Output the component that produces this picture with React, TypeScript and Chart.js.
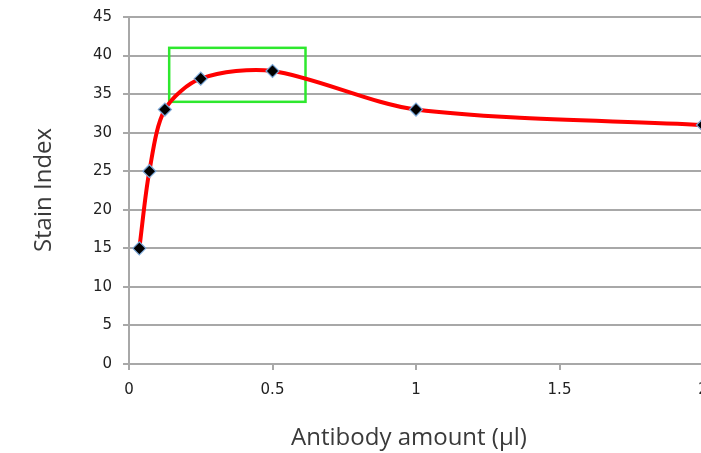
import React, { useEffect, useRef } from "react";
import { Chart, registerables } from "chart.js";

Chart.register(...registerables);

const antibodyAmount = [0.036, 0.071, 0.125, 0.25, 0.5, 1, 2];
const stainIndex = [15, 25, 33, 37, 38, 33, 31];
const yTickRange = [0, 45];
const yTickStep = 5;
const xTickRange = [0, 2];
const xTickStep = 0.5;
const highlightX = [0.14, 0.615];
const highlightY = [34, 41];
const yTitle = "Stain Index";
const xTitle = "Antibody amount (µl)";

const GRID = "#a8a8a8";
const TICK_FONT = "'DejaVu Sans', sans-serif";
const TITLE_FONT = "'Open Sans', sans-serif";

export default function App() {
  const ref = useRef<HTMLCanvasElement | null>(null);

  useEffect(() => {
    if (!ref.current) return;
    const boxPlugin = {
      id: "highlightBox",
      beforeDatasetsDraw(chart: any) {
        const { ctx, scales } = chart;
        const x0 = scales.x.getPixelForValue(highlightX[0]);
        const x1 = scales.x.getPixelForValue(highlightX[1]);
        const y0 = scales.y.getPixelForValue(highlightY[1]);
        const y1 = scales.y.getPixelForValue(highlightY[0]);
        ctx.save();
        ctx.strokeStyle = "#2ee82e";
        ctx.lineWidth = 2.5;
        ctx.strokeRect(x0, y0, x1 - x0, y1 - y0);
        ctx.restore();
      },
    };
    const titlePlugin = {
      id: "axisTitles",
      afterDraw(chart: any) {
        const { ctx } = chart;
        ctx.save();
        ctx.fillStyle = "#3a3a3a";
        ctx.font = `24px ${TITLE_FONT}`;
        ctx.textAlign = "center";
        ctx.textBaseline = "alphabetic";
        ctx.fillText(xTitle, 409, 445);
        ctx.translate(51, 190);
        ctx.rotate(-Math.PI / 2);
        ctx.fillText(yTitle, 0, 0);
        ctx.restore();
      },
    };
    const chart = new Chart(ref.current, {
      type: "line",
      data: {
        datasets: [
          {
            data: antibodyAmount.map((x, i) => ({ x, y: stainIndex[i] })),
            borderColor: "#ff0000",
            borderWidth: 4,
            tension: 0.3,
            pointStyle: "rectRot",
            pointRadius: 6.5,
            pointBackgroundColor: "#000000",
            pointBorderColor: "#7aa6d6",
            pointBorderWidth: 1.2,
            fill: false,
            clip: 10,
          },
        ],
      },
      options: {
        responsive: false,
        animation: false,
        layout: { padding: { top: 17, right: 17, bottom: 0, left: 0 } },
        plugins: { legend: { display: false }, tooltip: { enabled: false } },
        scales: {
          x: {
            type: "linear",
            min: xTickRange[0],
            max: xTickRange[1],
            ticks: {
              stepSize: xTickStep,
              color: "#222",
              padding: 11,
              font: { family: TICK_FONT, size: 15 },
              callback: (v: any) => String(v),
            },
            grid: {
              drawOnChartArea: false,
              drawTicks: true,
              tickLength: 6,
              color: GRID,
              lineWidth: 2,
            },
            border: { color: GRID, width: 2 },
            afterFit(scale: any) {
              scale.height = 89;
              scale.paddingLeft = 0;
              scale.paddingRight = 0;
            },
          },
          y: {
            type: "linear",
            min: yTickRange[0],
            max: yTickRange[1],
            ticks: {
              stepSize: yTickStep,
              color: "#222",
              padding: 11,
              font: { family: TICK_FONT, size: 15 },
            },
            grid: {
              drawTicks: true,
              tickLength: 6,
              color: GRID,
              lineWidth: 2,
            },
            border: { color: GRID, width: 2 },
            afterFit(scale: any) {
              scale.width = 129;
              scale.paddingTop = 0;
              scale.paddingBottom = 0;
            },
          },
        },
      },
      plugins: [boxPlugin, titlePlugin],
    });
    return () => chart.destroy();
  }, []);

  return (
    <div
      style={{
        position: "absolute",
        left: 0,
        top: 0,
        width: 701,
        height: 453,
        overflow: "hidden",
        background: "#fff",
      }}
    >
      <canvas ref={ref} width={720} height={453} style={{ width: 720, height: 453 }} />
    </div>
  );
}
